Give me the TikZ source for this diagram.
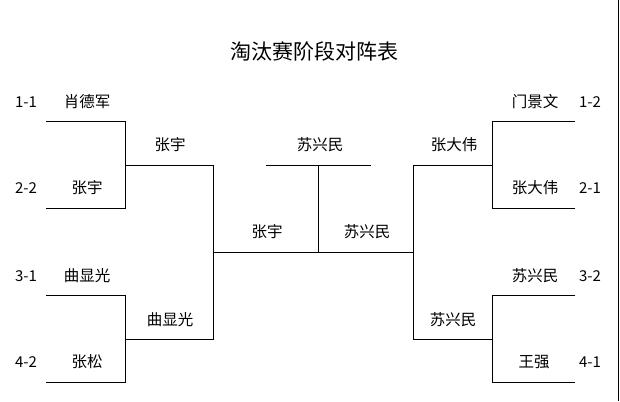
\documentclass[tikz,border=0pt]{standalone}
\usepackage{fontspec}
\newfontfamily\cjk{Noto Sans CJK SC}

\begin{document}
\begin{tikzpicture}[x=1pt, y=-1pt, line width=1pt,
  player/.style={font=\cjk\fontsize{15.5}{15.5}\selectfont, inner sep=0pt},
  seed/.style={font=\cjk\fontsize{15}{15}\selectfont, inner sep=0pt}]
  \useasboundingbox (0,0) rectangle (620,401);
  \draw (618.5,0) -- (618.5,401);

  \node[font=\cjk\fontsize{21}{21}\selectfont, inner sep=0pt] (title) at (314,51) {淘汰赛阶段对阵表};

  % Gauche : premier tour
  \coordinate (l1) at (46,121);
  \coordinate (l2) at (46,208);
  \coordinate (l3) at (46,295);
  \coordinate (l4) at (46,382);
  \coordinate (la) at (125,208);
  \coordinate (lb) at (125,382);
  \draw (l1) -| (la) -- (l2);
  \draw (l3) -| (lb) -- (l4);

  % Gauche : demi-finale
  \coordinate (lm1) at (125,165);
  \coordinate (lm2) at (125,339);
  \coordinate (lc) at (213,339);
  \draw (lm1) -| (lc) -- (lm2);

  % Finale
  \coordinate (fl) at (213,252);
  \coordinate (fr) at (413,252);
  \coordinate (w1) at (266,165);
  \coordinate (w2) at (371,165);
  \coordinate (wm) at (318,165);
  \coordinate (wb) at (318,252);
  \draw (fl) -- (fr);
  \draw (w1) -- (w2);
  \draw (wm) -- (wb);

  % Droite : demi-finale
  \coordinate (rm1) at (492,165);
  \coordinate (rm2) at (492,339);
  \coordinate (rc) at (413,339);
  \draw (rm1) -| (rc) -- (rm2);

  % Droite : premier tour
  \coordinate (r1) at (575,121);
  \coordinate (r2) at (575,208);
  \coordinate (r3) at (575,295);
  \coordinate (r4) at (575,382);
  \coordinate (ra) at (492,208);
  \coordinate (rb) at (492,382);
  \draw (r1) -| (ra) -- (r2);
  \draw (r3) -| (rb) -- (r4);

  % Groupes
  \node[seed] (s11) at (26,102) {1-1};
  \node[seed] (s22) at (26,188) {2-2};
  \node[seed] (s31) at (26,276) {3-1};
  \node[seed] (s42) at (26,362) {4-2};
  \node[seed] (s12) at (590,102) {1-2};
  \node[seed] (s21) at (590,188) {2-1};
  \node[seed] (s32) at (590,276) {3-2};
  \node[seed] (s41) at (590,362) {4-1};

  % Joueurs
  \node[player] (xiao) at (87,102) {肖德军};
  \node[player] (zhangyu) at (87,188) {张宇};
  \node[player] (qu) at (87,276) {曲显光};
  \node[player] (zhangsong) at (87,362) {张松};
  \node[player] (men) at (535,102) {门景文};
  \node[player] (zhangdw) at (535,188) {张大伟};
  \node[player] (su) at (535,276) {苏兴民};
  \node[player] (wang) at (534,362) {王强};

  \node[player] (zhangyu2) at (170,145) {张宇};
  \node[player] (qu2) at (170,320) {曲显光};
  \node[player] (zhangdw2) at (454,145) {张大伟};
  \node[player] (su2) at (453,320) {苏兴民};

  \node[player] (zhangyu3) at (267,232) {张宇};
  \node[player] (su3) at (367,232) {苏兴民};
  \node[player] (champion) at (320,145) {苏兴民};
\end{tikzpicture}
\end{document}
